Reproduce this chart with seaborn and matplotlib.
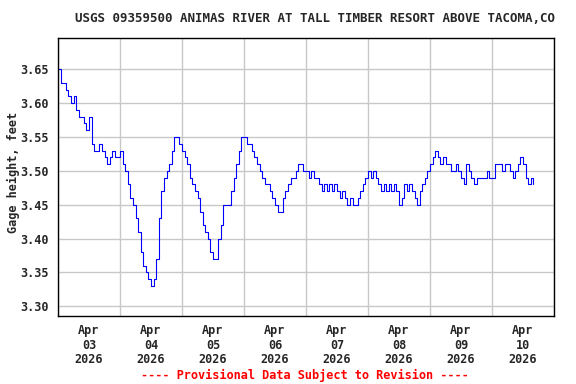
import pandas as pd
import matplotlib
matplotlib.use("Agg")
import matplotlib.pyplot as plt
import matplotlib.dates as mdates
import seaborn as sns

# Gage height (feet), hourly readings, one list per day
apr03 = [3.65, 3.63, 3.63, 3.62, 3.61, 3.60, 3.61, 3.59, 3.58, 3.58, 3.57, 3.56,
         3.58, 3.54, 3.53, 3.53, 3.54, 3.53, 3.52, 3.51, 3.52, 3.53, 3.52, 3.52]
apr04 = [3.53, 3.51, 3.50, 3.48, 3.46, 3.45, 3.43, 3.41, 3.38, 3.36, 3.35, 3.34,
         3.33, 3.34, 3.37, 3.43, 3.47, 3.49, 3.50, 3.51, 3.53, 3.55, 3.55, 3.54]
apr05 = [3.53, 3.52, 3.51, 3.49, 3.48, 3.47, 3.46, 3.44, 3.42, 3.41, 3.40, 3.38,
         3.37, 3.37, 3.40, 3.42, 3.45, 3.45, 3.45, 3.47, 3.49, 3.51, 3.53, 3.55]
apr06 = [3.55, 3.54, 3.54, 3.53, 3.52, 3.51, 3.50, 3.49, 3.48, 3.48, 3.47, 3.46,
         3.45, 3.44, 3.44, 3.46, 3.47, 3.48, 3.49, 3.49, 3.50, 3.51, 3.51, 3.50]
apr07 = [3.50, 3.49, 3.50, 3.49, 3.49, 3.48, 3.47, 3.48, 3.47, 3.48, 3.47, 3.48,
         3.47, 3.46, 3.47, 3.46, 3.45, 3.46, 3.45, 3.45, 3.46, 3.47, 3.48, 3.49]
apr08 = [3.50, 3.49, 3.50, 3.49, 3.48, 3.47, 3.48, 3.47, 3.48, 3.47, 3.48, 3.47,
         3.45, 3.46, 3.48, 3.47, 3.48, 3.47, 3.46, 3.45, 3.47, 3.48, 3.49, 3.50]
apr09 = [3.51, 3.52, 3.53, 3.52, 3.51, 3.52, 3.51, 3.51, 3.50, 3.50, 3.51, 3.50,
         3.49, 3.48, 3.51, 3.50, 3.49, 3.48, 3.49, 3.49, 3.49, 3.49, 3.50, 3.49]
apr10 = [3.49, 3.51, 3.51, 3.51, 3.50, 3.51, 3.51, 3.50, 3.49, 3.50, 3.51, 3.52,
         3.51, 3.49, 3.48, 3.49, 3.48]

title = "USGS 09359500 ANIMAS RIVER AT TALL TIMBER RESORT ABOVE TACOMA,CO"
ylabel = "Gage height, feet"
footer = "---- Provisional Data Subject to Revision ----"
yticks = [3.30, 3.35, 3.40, 3.45, 3.50, 3.55, 3.60, 3.65]

heights = apr03 + apr04 + apr05 + apr06 + apr07 + apr08 + apr09 + apr10
df = pd.DataFrame({
    "time": pd.date_range("2026-04-03 00:00", periods=len(heights), freq="h"),
    "height": heights,
})

sns.set_style("ticks")
plt.rcParams["font.family"] = ["DejaVu Sans Mono"]
plt.rcParams["font.weight"] = "bold"

fig = plt.figure(figsize=(5.76, 3.84), dpi=100)
ax = fig.add_axes([58 / 576, 1 - 316 / 384, 496 / 576, 278 / 384])

sns.lineplot(data=df, x="time", y="height", ax=ax, color="#0000ff",
             linewidth=0.8, drawstyle="steps-post")

ax.set_xlim(pd.Timestamp("2026-04-03"), pd.Timestamp("2026-04-11"))
ax.set_ylim(3.2857, 3.6962)
ax.set_yticks(yticks)
ax.set_yticklabels([f"{v:.2f}" for v in yticks])

ax.xaxis.set_major_locator(mdates.HourLocator(byhour=[12]))
ax.xaxis.set_major_formatter(mdates.DateFormatter("%b\n%d\n%Y"))
ax.xaxis.set_minor_locator(mdates.DayLocator())

ax.grid(axis="x", which="minor", color="#c8c8c8", linewidth=1.0)
ax.grid(axis="y", which="major", color="#c8c8c8", linewidth=1.0)
ax.set_axisbelow(True)

ax.tick_params(axis="both", which="both", length=0, labelsize=8.5)
ax.tick_params(axis="y", pad=7)
ax.tick_params(axis="x", pad=6)
for lbl in ax.get_xticklabels():
    lbl.set_linespacing(1.15)

for s in ax.spines.values():
    s.set_color("black")
    s.set_linewidth(1.0)

ax.set_xlabel("")
ax.set_ylabel("")

fig.text(315 / 576, 1 - 19 / 384, title, ha="center", va="center",
         fontsize=9.0, fontweight="bold")
fig.text(13 / 576, 1 - 172 / 384, ylabel, ha="center", va="center",
         rotation=90, fontsize=8.6, fontweight="bold")
fig.text(305 / 576, 1 - 375 / 384, footer, ha="center", va="center",
         fontsize=8.6, fontweight="bold", color="#ff0000")

fig.savefig("out.png", dpi=100)
